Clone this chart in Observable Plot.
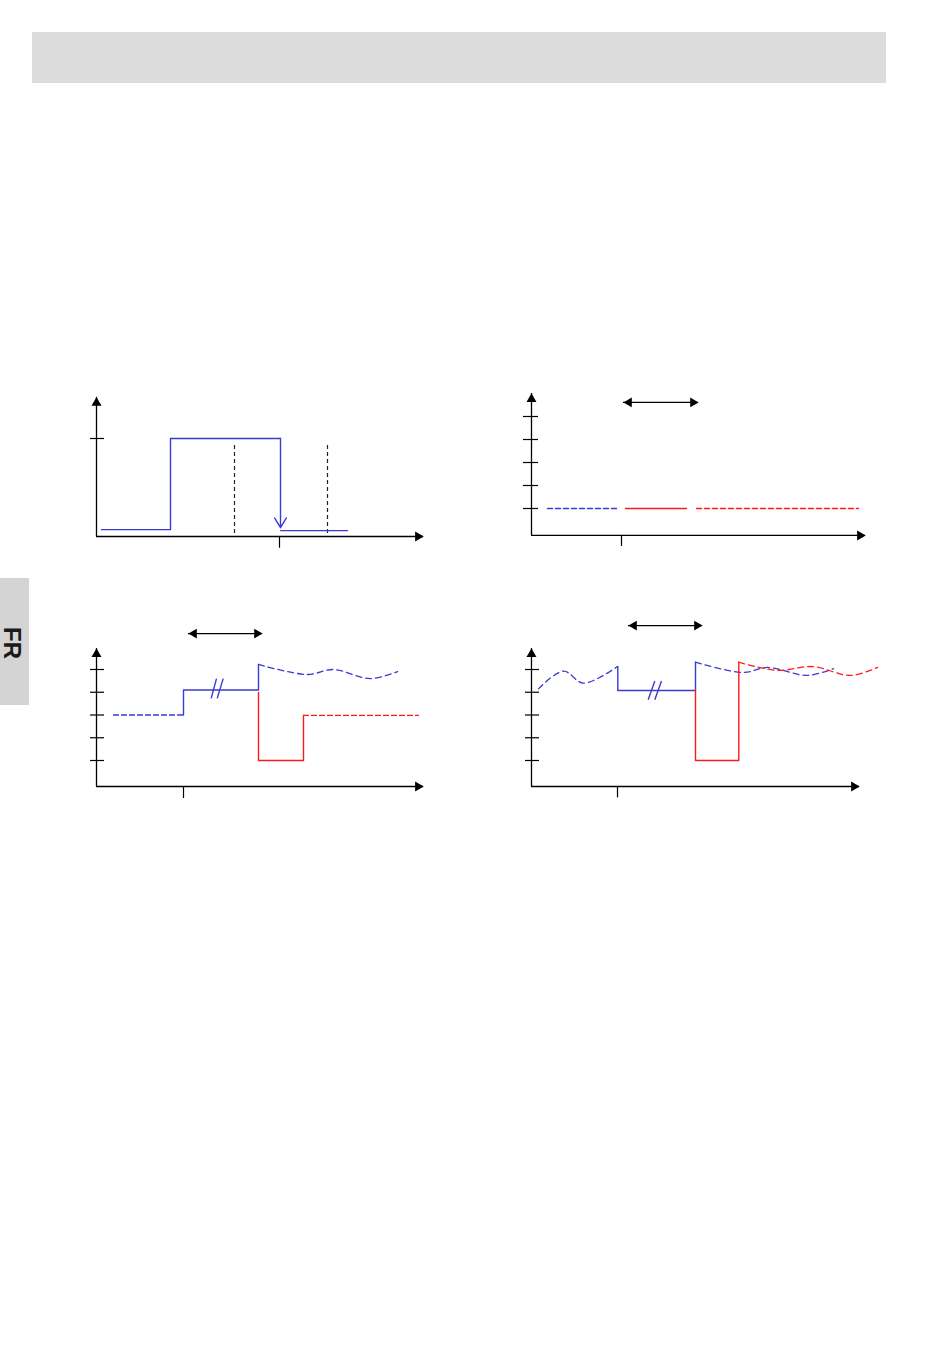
<!DOCTYPE html>
<html>
<head>
<meta charset="utf-8">
<script src="https://cdn.jsdelivr.net/npm/d3@7"></script>
<script src="https://cdn.jsdelivr.net/npm/@observablehq/plot@0.6"></script>
<style>
  html, body { margin: 0; padding: 0; background: #fff; }
  body { width: 950px; height: 1348px; position: relative; overflow: hidden; font-family: "Liberation Sans", Arial, sans-serif; }
  .header { position: absolute; left: 32px; top: 32px; width: 854px; height: 51px; background: #dcdcdc; }
  .tab { position: absolute; left: 0; top: 578px; width: 29px; height: 127px; background: #d4d4d4; }
  .tab span { position: absolute; left: 12px; top: 643px; transform: translate(-50%, -50%) rotate(90deg); font-weight: bold; font-size: 24px; color: #1a1a1a; white-space: nowrap; }
  .panel { position: absolute; }
  .panel svg { overflow: visible; background: transparent; }
</style>
</head>
<body>
<div class="header"></div>
<div class="tab"></div>
<div class="tab" style="background:none"><span style="top:65px">FR</span></div>
<script>
// ---------------- colours ----------------
const BLUE = "#3a3ad4";
const RED = "#ff1a1a";

// ---------------- panel 1 (x: time units, y: level, 1 = set level) ----------------
const p1LevelTicks = [1];
const p1TimeTicks = [18.3];
const p1Step = [[0.5, 0.07], [7.4, 0.07], [7.4, 1], [18.4, 1]];
const p1Drop = [{x1: 18.4, y1: 1, x2: 18.4, y2: 0.09}];
const p1After = [[18.4, 0.06], [25.1, 0.06]];
const p1Markers = [13.8, 23.1];
const p1MarkerSpan = [0.03, 0.96];
const p1Axis = {base: 0, top: 1.42, tip: 32.7};

// ---------------- panel 2 ----------------
const p2LevelTicks = [1, 2, 3, 4, 5];
const p2TimeTicks = [9.0];
const p2BlueDashed = [[1.6, 1], [8.6, 1]];
const p2RedSolid = [[9.4, 1], [15.5, 1]];
const p2RedDashed = [[16.5, 1], [32.7, 1]];
const p2Span = {x1: 9.2, x2: 16.7, y: 5.61};
const p2Axis = {base: -0.17, top: 6.0, tip: 33.4};

// ---------------- panel 3 ----------------
const p3LevelTicks = [1, 2, 3, 4, 5];
const p3TimeTicks = [8.7];
const p3BlueBefore = [[1.7, 3], [8.7, 3]];
const p3BlueStep = [[8.7, 3], [8.7, 4.1], [16.2, 4.1], [16.2, 5.22]];
const p3BlueWave = [[16.2, 5.22], [21.1, 4.78], [23.7, 5.0], [27.4, 4.6], [30.1, 4.91]];
const p3RedStep = [[16.2, 3.99], [16.2, 1], [20.7, 1], [20.7, 2.98]];
const p3RedAfter = [[20.7, 2.98], [32.2, 2.98]];
const p3Break = [{x1: 11.47, y1: 3.73, x2: 12.0, y2: 4.6}, {x1: 12.07, y1: 3.73, x2: 12.67, y2: 4.6}];
const p3Span = {x1: 9.2, x2: 16.6, y: 6.58};
const p3Axis = {base: -0.143, top: 5.92, tip: 32.7};

// ---------------- panel 4 ----------------
const p4LevelTicks = [1, 2, 3, 4, 5];
const p4TimeTicks = [8.6];
const p4BlueWaveBefore = [[0.7, 4.15], [3.2, 4.93], [5.2, 4.4], [8.6, 5.13]];
const p4BlueStep = [[8.63, 5.13], [8.63, 4.08], [16.4, 4.08], [16.4, 5.32]];
const p4BlueWaveAfter = [[16.4, 5.32], [21.2, 4.87], [23.6, 5.09], [27.6, 4.74], [30.2, 5.04]];
const p4RedStep = [[16.4, 4.11], [16.4, 1], [20.73, 1], [20.73, 5.32]];
const p4RedWave = [[20.73, 5.32], [24.6, 4.96], [28.1, 5.13], [31.9, 4.74], [34.6, 5.09]];
const p4Break = [{x1: 11.67, y1: 3.67, x2: 12.33, y2: 4.49}, {x1: 12.33, y1: 3.67, x2: 13.0, y2: 4.49}];
const p4Span = {x1: 9.7, x2: 17.1, y: 6.93};
const p4Axis = {base: -0.143, top: 5.92, tip: 32.8};

// ---------------- helpers ----------------
function axesMarks(ax, levelTicks, timeTicks, tickX1, tickX2, timeTickLen) {
  return [
    Plot.ruleX([0], {y1: ax.base, y2: ax.top, stroke: "black", strokeWidth: 1.3}),
    Plot.ruleY([ax.base], {x1: 0, x2: ax.tip, stroke: "black", strokeWidth: 1.3}),
    Plot.dot([[0, ax.top]], {symbol: "triangle", r: 3.7, fill: "black", stroke: null, dy: 5.5}),
    Plot.dot([[ax.tip, ax.base]], {symbol: "triangle", r: 3.7, fill: "black", stroke: null, rotate: 90, dx: -5.5}),
    Plot.ruleY(levelTicks, {x1: tickX1, x2: tickX2, stroke: "black", strokeWidth: 1.2}),
    Plot.ruleX(timeTicks, {y1: ax.base, y2: ax.base - timeTickLen, stroke: "black", strokeWidth: 1.2})
  ];
}
function spanMarks(s) {
  return [
    Plot.ruleY([s.y], {x1: s.x1, x2: s.x2, stroke: "black", strokeWidth: 1.3}),
    Plot.dot([[s.x1, s.y]], {symbol: "triangle", r: 3.6, fill: "black", stroke: null, rotate: -90, dx: 5.5}),
    Plot.dot([[s.x2, s.y]], {symbol: "triangle", r: 3.6, fill: "black", stroke: null, rotate: 90, dx: -5.5})
  ];
}
function panel(pos, marks) {
  const svg = Plot.plot({
    width: pos.width, height: pos.height, margin: 0,
    x: {domain: pos.xDomain, range: pos.xRange, axis: null},
    y: {domain: pos.yDomain, range: pos.yRange, axis: null},
    style: {background: "transparent", overflow: "visible"},
    marks
  });
  const div = document.createElement("div");
  div.className = "panel";
  div.style.left = pos.left + "px";
  div.style.top = pos.top + "px";
  div.appendChild(svg);
  document.body.appendChild(div);
}

// ---------------- panel 1 ----------------
panel({left: 60, top: 380, width: 400, height: 180,
       xDomain: [0, 33], xRange: [36, 366], yDomain: [0, 1], yRange: [156, 58]}, [
  ...axesMarks(p1Axis, p1LevelTicks, p1TimeTicks, -0.6, 0.8, 0.12),
  Plot.ruleX(p1Markers, {y1: p1MarkerSpan[0], y2: p1MarkerSpan[1], stroke: "#222", strokeWidth: 1.2, strokeDasharray: "4,3"}),
  Plot.line(p1Step, {stroke: BLUE, strokeWidth: 1.4}),
  Plot.arrow(p1Drop, {x1: "x1", y1: "y1", x2: "x2", y2: "y2", stroke: BLUE, strokeWidth: 1.4, headLength: 12, headAngle: 62}),
  Plot.line(p1After, {stroke: BLUE, strokeWidth: 1.4})
]);

// ---------------- panel 2 ----------------
panel({left: 495, top: 380, width: 400, height: 180,
       xDomain: [0, 33.5], xRange: [36, 371], yDomain: [1, 5], yRange: [128, 36]}, [
  ...axesMarks(p2Axis, p2LevelTicks, p2TimeTicks, -0.8, 0.7, 0.48),
  ...spanMarks(p2Span),
  Plot.line(p2BlueDashed, {stroke: BLUE, strokeWidth: 1.4, strokeDasharray: "5,3"}),
  Plot.line(p2RedSolid, {stroke: RED, strokeWidth: 1.4}),
  Plot.line(p2RedDashed, {stroke: RED, strokeWidth: 1.4, strokeDasharray: "5,3"})
]);

// ---------------- panel 3 ----------------
panel({left: 60, top: 610, width: 400, height: 200,
       xDomain: [0, 33], xRange: [36, 366], yDomain: [1, 5], yRange: [150, 59]}, [
  ...axesMarks(p3Axis, p3LevelTicks, p3TimeTicks, -0.6, 0.8, 0.53),
  ...spanMarks(p3Span),
  Plot.line(p3BlueBefore, {stroke: BLUE, strokeWidth: 1.3, strokeDasharray: "5,3"}),
  Plot.line(p3BlueStep, {stroke: BLUE, strokeWidth: 1.4}),
  Plot.link(p3Break, {x1: "x1", y1: "y1", x2: "x2", y2: "y2", stroke: BLUE, strokeWidth: 1.4}),
  Plot.line(p3BlueWave, {stroke: BLUE, strokeWidth: 1.3, strokeDasharray: "6,4", curve: "catmull-rom"}),
  Plot.line(p3RedStep, {stroke: RED, strokeWidth: 1.4}),
  Plot.line(p3RedAfter, {stroke: RED, strokeWidth: 1.3, strokeDasharray: "5,3"})
]);

// ---------------- panel 4 ----------------
panel({left: 495, top: 610, width: 400, height: 200,
       xDomain: [0, 35], xRange: [36, 386], yDomain: [1, 5], yRange: [150, 59]}, [
  ...axesMarks(p4Axis, p4LevelTicks, p4TimeTicks, -0.6, 0.8, 0.5),
  ...spanMarks(p4Span),
  Plot.line(p4BlueWaveBefore, {stroke: BLUE, strokeWidth: 1.3, strokeDasharray: "6,4", curve: "catmull-rom"}),
  Plot.line(p4BlueStep, {stroke: BLUE, strokeWidth: 1.4}),
  Plot.link(p4Break, {x1: "x1", y1: "y1", x2: "x2", y2: "y2", stroke: BLUE, strokeWidth: 1.4}),
  Plot.line(p4BlueWaveAfter, {stroke: BLUE, strokeWidth: 1.3, strokeDasharray: "6,4", curve: "catmull-rom"}),
  Plot.line(p4RedStep, {stroke: RED, strokeWidth: 1.4}),
  Plot.line(p4RedWave, {stroke: RED, strokeWidth: 1.3, strokeDasharray: "6,4", curve: "catmull-rom"})
]);
</script>
</body>
</html>
